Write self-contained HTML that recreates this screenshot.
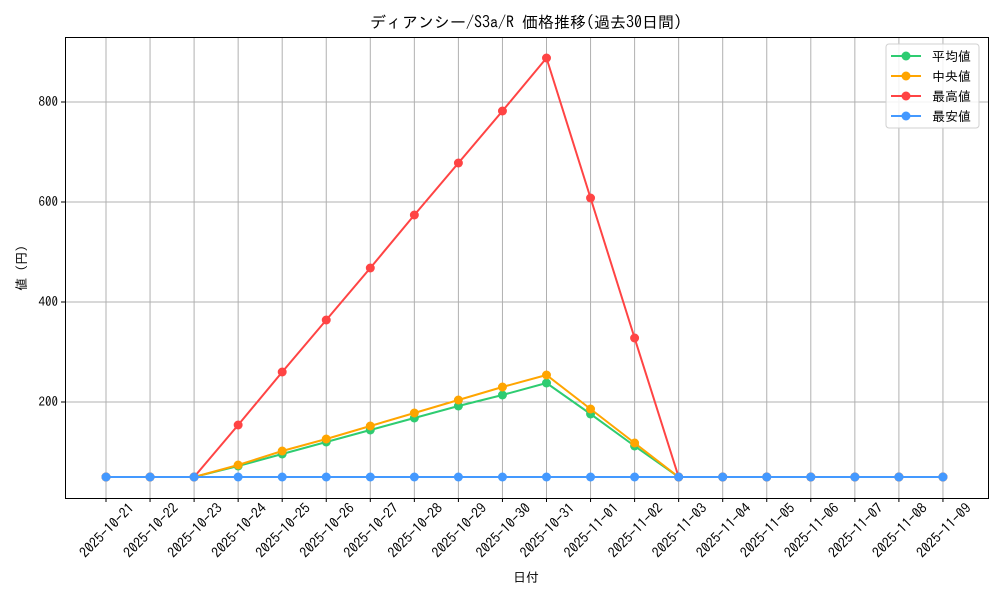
<!DOCTYPE html>
<html><head><meta charset="utf-8"><style>body{margin:0;background:#fff}svg{display:block;font-family:"IPAGothic","Noto Sans CJK JP",sans-serif}</style></head><body>
<svg width="1000" height="600" xmlns="http://www.w3.org/2000/svg">
<rect width="1000" height="600" fill="#fff"/>
<text x="526" y="28" font-size="16" text-anchor="middle">ディアンシー/S3a/R 価格推移(過去30日間)</text>
<g id="grid" stroke="#b0b0b0" stroke-width="1"></g>
<rect x="65.5" y="37.5" width="923" height="461" fill="none" stroke="#000" stroke-width="1"/>
<g id="yt" font-size="13" text-anchor="end"></g>
<g id="xt" font-size="14" text-anchor="end"></g>
<text x="526" y="582" font-size="13" text-anchor="middle">日付</text>
<text transform="translate(26,268) rotate(-90)" font-size="13" text-anchor="middle">値 (円)</text>
<g id="series"></g>
<g>
<rect x="886" y="44" width="93" height="84" rx="3" fill="#fff" fill-opacity="0.85" stroke="#d0d0d0"/>
<line x1="891" y1="56" x2="921" y2="56" stroke="#2ecc71" stroke-width="2"/><circle cx="906" cy="56" r="4.5" fill="#2ecc71"/><text x="932" y="61" font-size="13">平均値</text>
<line x1="891" y1="76" x2="921" y2="76" stroke="#ffa500" stroke-width="2"/><circle cx="906" cy="76" r="4.5" fill="#ffa500"/><text x="932" y="81" font-size="13"> 中央値</text>
<line x1="891" y1="96" x2="921" y2="96" stroke="#ff4444" stroke-width="2"/><circle cx="906" cy="96" r="4.5" fill="#ff4444"/><text x="932" y="101" font-size="13">最高値</text>
<line x1="891" y1="116" x2="921" y2="116" stroke="#4499ff" stroke-width="2"/><circle cx="906" cy="116" r="4.5" fill="#4499ff"/><text x="932" y="121" font-size="13">最安値</text>
</g>
</svg>
<script>
const ns="http://www.w3.org/2000/svg";
function el(t,a,p,txt){const e=document.createElementNS(ns,t);for(const k in a)e.setAttribute(k,a[k]);if(txt)e.textContent=txt;document.getElementById(p).appendChild(e);return e;}
const X=i=>106+i*44.05, Y=v=>502-v*0.5;
const dates=["2025-10-21","2025-10-22","2025-10-23","2025-10-24","2025-10-25","2025-10-26","2025-10-27","2025-10-28","2025-10-29","2025-10-30","2025-10-31","2025-11-01","2025-11-02","2025-11-03","2025-11-04","2025-11-05","2025-11-06","2025-11-07","2025-11-08","2025-11-09"];
dates.forEach((d,i)=>{const x=X(i);el("line",{x1:x,y1:37,x2:x,y2:498},"grid");el("line",{x1:x,y1:498,x2:x,y2:502,stroke:"#000"},"xt");
el("text",{transform:`translate(${x+29},${509}) rotate(-45)`},"xt",d);});
[200,400,600,800].forEach(v=>{const y=Y(v);el("line",{x1:65,y1:y,x2:988,y2:y},"grid");el("line",{x1:61,y1:y,x2:65,y2:y,stroke:"#000"},"yt");el("text",{x:58,y:y+4},"yt",String(v));});
const f=a=>[50,50,50,...a,50,50,50,50,50,50,50];
const S=[
["#2ecc71",f([72,96,120,144,168,192,214,238,176,112])],
["#ffa500",f([74,102,126,152,178,204,230,254,186,118])],
["#ff4444",f([154,260,364,468,574,678,782,888,608,328])],
["#4499ff",dates.map(()=>50)]];
S.forEach(([c,d])=>{el("polyline",{points:d.map((v,i)=>X(i)+","+Y(v)).join(" "),fill:"none",stroke:c,"stroke-width":2},"series");
d.forEach((v,i)=>el("circle",{cx:X(i),cy:Y(v),r:4.5,fill:c},"series"));});
</script>
</body></html>
